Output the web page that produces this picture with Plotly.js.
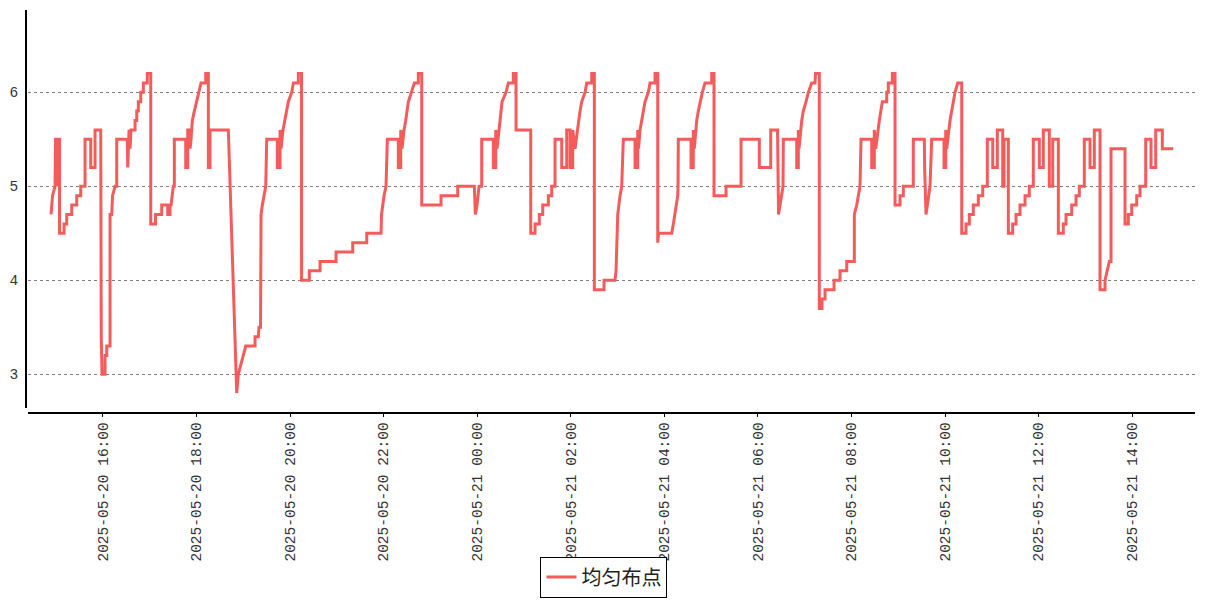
<!DOCTYPE html>
<html>
<head>
<meta charset="utf-8">
<script src="https://cdn.plot.ly/plotly-3.0.1.min.js"></script>
<style>html,body{margin:0;padding:0;background:#fff;}#chart{width:1207px;height:600px;}</style>
</head>
<body>
<div id="chart"></div>
<script>
const seriesName = '均匀布点';
const times = [
'2025-05-20 14:53:35','2025-05-20 14:55:31','2025-05-20 14:58:43','2025-05-20 14:59:22','2025-05-20 15:01:17','2025-05-20 15:01:55','2025-05-20 15:02:34','2025-05-20 15:04:29',
'2025-05-20 15:04:29','2025-05-20 15:10:15','2025-05-20 15:10:15','2025-05-20 15:13:43','2025-05-20 15:13:43','2025-05-20 15:20:08','2025-05-20 15:20:08','2025-05-20 15:26:32',
'2025-05-20 15:26:32','2025-05-20 15:31:40','2025-05-20 15:31:40','2025-05-20 15:37:11','2025-05-20 15:37:11','2025-05-20 15:44:29','2025-05-20 15:44:29','2025-05-20 15:50:00',
'2025-05-20 15:50:00','2025-05-20 15:57:18','2025-05-20 15:57:57','2025-05-20 15:58:59','2025-05-20 16:02:49','2025-05-20 16:02:49','2025-05-20 16:05:00','2025-05-20 16:05:00',
'2025-05-20 16:09:14','2025-05-20 16:09:14','2025-05-20 16:11:25','2025-05-20 16:12:26','2025-05-20 16:15:38','2025-05-20 16:17:49','2025-05-20 16:17:49','2025-05-20 16:31:25',
'2025-05-20 16:31:56','2025-05-20 16:33:36','2025-05-20 16:34:53','2025-05-20 16:36:09','2025-05-20 16:41:17','2025-05-20 16:41:17','2025-05-20 16:43:28','2025-05-20 16:43:28',
'2025-05-20 16:45:31','2025-05-20 16:45:31','2025-05-20 16:48:36','2025-05-20 16:48:36','2025-05-20 16:51:56','2025-05-20 16:51:56','2025-05-20 16:57:03','2025-05-20 16:57:03',
'2025-05-20 17:01:25','2025-05-20 17:01:25','2025-05-20 17:07:34','2025-05-20 17:07:34','2025-05-20 17:15:31','2025-05-20 17:15:31','2025-05-20 17:23:13','2025-05-20 17:23:13',
'2025-05-20 17:26:10','2025-05-20 17:26:10','2025-05-20 17:27:27','2025-05-20 17:28:43','2025-05-20 17:30:23','2025-05-20 17:31:40','2025-05-20 17:31:40','2025-05-20 17:46:17',
'2025-05-20 17:46:17','2025-05-20 17:48:51','2025-05-20 17:48:51','2025-05-20 17:51:48','2025-05-20 17:51:48','2025-05-20 17:53:05','2025-05-20 17:54:45','2025-05-20 17:57:19',
'2025-05-20 18:00:23','2025-05-20 18:03:43','2025-05-20 18:05:54','2025-05-20 18:11:56','2025-05-20 18:11:56','2025-05-20 18:15:16','2025-05-20 18:15:16','2025-05-20 18:17:26',
'2025-05-20 18:17:26','2025-05-20 18:40:54','2025-05-20 18:51:40','2025-05-20 18:53:44','2025-05-20 18:57:11','2025-05-20 19:00:08','2025-05-20 19:03:13','2025-05-20 19:15:08',
'2025-05-20 19:15:08','2025-05-20 19:19:22','2025-05-20 19:20:16','2025-05-20 19:22:11','2025-05-20 19:22:50','2025-05-20 19:24:30','2025-05-20 19:27:04','2025-05-20 19:28:52',
'2025-05-20 19:30:08','2025-05-20 19:43:44','2025-05-20 19:43:44','2025-05-20 19:47:11','2025-05-20 19:47:11','2025-05-20 19:48:28','2025-05-20 19:51:02','2025-05-20 19:53:36',
'2025-05-20 19:55:47','2025-05-20 19:57:50','2025-05-20 20:02:11','2025-05-20 20:04:14','2025-05-20 20:10:39','2025-05-20 20:10:39','2025-05-20 20:14:45','2025-05-20 20:14:45',
'2025-05-20 20:24:45','2025-05-20 20:24:45','2025-05-20 20:38:28','2025-05-20 20:38:28','2025-05-20 20:58:59','2025-05-20 20:58:59','2025-05-20 21:20:24','2025-05-20 21:20:24',
'2025-05-20 21:38:21','2025-05-20 21:38:21','2025-05-20 21:56:41','2025-05-20 21:57:19','2025-05-20 22:00:32','2025-05-20 22:03:05','2025-05-20 22:04:46','2025-05-20 22:18:52',
'2025-05-20 22:18:52','2025-05-20 22:21:56','2025-05-20 22:21:56','2025-05-20 22:23:37','2025-05-20 22:26:10','2025-05-20 22:28:21','2025-05-20 22:31:41','2025-05-20 22:35:09',
'2025-05-20 22:39:23','2025-05-20 22:44:31','2025-05-20 22:44:31','2025-05-20 22:48:52','2025-05-20 22:48:52','2025-05-20 23:13:37','2025-05-20 23:13:37','2025-05-20 23:35:01',
'2025-05-20 23:35:01','2025-05-20 23:56:18','2025-05-20 23:57:35','2025-05-20 23:59:46','2025-05-21 00:02:20','2025-05-21 00:05:47','2025-05-21 00:05:47','2025-05-21 00:20:40',
'2025-05-21 00:20:40','2025-05-21 00:23:44','2025-05-21 00:23:44','2025-05-21 00:25:25','2025-05-21 00:27:58','2025-05-21 00:29:53','2025-05-21 00:31:49','2025-05-21 00:36:57',
'2025-05-21 00:39:53','2025-05-21 00:46:18','2025-05-21 00:46:18','2025-05-21 00:49:46','2025-05-21 00:49:46','2025-05-21 01:08:37','2025-05-21 01:08:37','2025-05-21 01:14:08',
'2025-05-21 01:14:08','2025-05-21 01:19:38','2025-05-21 01:19:38','2025-05-21 01:24:00','2025-05-21 01:24:00','2025-05-21 01:31:11','2025-05-21 01:31:11','2025-05-21 01:35:32',
'2025-05-21 01:35:32','2025-05-21 01:39:46','2025-05-21 01:39:46','2025-05-21 01:48:22','2025-05-21 01:48:22','2025-05-21 01:54:46','2025-05-21 01:54:46','2025-05-21 01:59:00',
'2025-05-21 01:59:00','2025-05-21 02:02:28','2025-05-21 02:02:28','2025-05-21 02:05:25','2025-05-21 02:09:38','2025-05-21 02:11:49','2025-05-21 02:14:00','2025-05-21 02:18:14',
'2025-05-21 02:20:25','2025-05-21 02:26:49','2025-05-21 02:26:49','2025-05-21 02:30:10','2025-05-21 02:30:10','2025-05-21 02:42:35','2025-05-21 02:42:35','2025-05-21 02:56:42',
'2025-05-21 02:57:59','2025-05-21 03:00:10','2025-05-21 03:03:06','2025-05-21 03:05:17','2025-05-21 03:07:20','2025-05-21 03:22:20','2025-05-21 03:22:20','2025-05-21 03:25:48',
'2025-05-21 03:25:48','2025-05-21 03:26:50','2025-05-21 03:28:45','2025-05-21 03:30:56','2025-05-21 03:32:59','2025-05-21 03:35:10','2025-05-21 03:39:24','2025-05-21 03:41:35',
'2025-05-21 03:47:59','2025-05-21 03:47:59','2025-05-21 03:51:27','2025-05-21 03:51:27','2025-05-21 03:52:29','2025-05-21 04:09:24','2025-05-21 04:11:27','2025-05-21 04:13:38',
'2025-05-21 04:15:49','2025-05-21 04:17:06','2025-05-21 04:17:29','2025-05-21 04:17:52','2025-05-21 04:34:08','2025-05-21 04:34:08','2025-05-21 04:37:05','2025-05-21 04:37:05',
'2025-05-21 04:38:22','2025-05-21 04:41:26','2025-05-21 04:43:29','2025-05-21 04:45:40','2025-05-21 04:48:37','2025-05-21 04:52:05','2025-05-21 05:00:40','2025-05-21 05:00:40',
'2025-05-21 05:03:37','2025-05-21 05:03:37','2025-05-21 05:19:01','2025-05-21 05:19:01','2025-05-21 05:38:14','2025-05-21 05:38:14','2025-05-21 06:01:42','2025-05-21 06:01:42',
'2025-05-21 06:16:19','2025-05-21 06:16:19','2025-05-21 06:25:02','2025-05-21 06:26:19','2025-05-21 06:30:25','2025-05-21 06:32:05','2025-05-21 06:32:28','2025-05-21 06:49:39',
'2025-05-21 06:49:39','2025-05-21 06:51:42','2025-05-21 06:51:42','2025-05-21 06:52:36','2025-05-21 06:56:04','2025-05-21 06:58:07','2025-05-21 07:01:35','2025-05-21 07:04:31',
'2025-05-21 07:08:53','2025-05-21 07:13:07','2025-05-21 07:13:45','2025-05-21 07:18:37','2025-05-21 07:18:37','2025-05-21 07:22:05','2025-05-21 07:22:05','2025-05-21 07:25:56',
'2025-05-21 07:25:56','2025-05-21 07:37:28','2025-05-21 07:37:28','2025-05-21 07:45:10','2025-05-21 07:45:10','2025-05-21 07:53:46','2025-05-21 07:53:46','2025-05-21 08:03:30',
'2025-05-21 08:03:30','2025-05-21 08:06:35','2025-05-21 08:08:38','2025-05-21 08:10:49','2025-05-21 08:12:05','2025-05-21 08:25:49','2025-05-21 08:25:49','2025-05-21 08:29:08',
'2025-05-21 08:29:08','2025-05-21 08:30:56','2025-05-21 08:35:33','2025-05-21 08:37:44','2025-05-21 08:39:24','2025-05-21 08:45:02','2025-05-21 08:45:02','2025-05-21 08:47:05',
'2025-05-21 08:47:05','2025-05-21 08:52:13','2025-05-21 08:52:13','2025-05-21 08:55:41','2025-05-21 08:55:41','2025-05-21 09:02:05','2025-05-21 09:02:05','2025-05-21 09:06:19',
'2025-05-21 09:06:19','2025-05-21 09:19:08','2025-05-21 09:19:08','2025-05-21 09:33:14','2025-05-21 09:33:38','2025-05-21 09:35:26','2025-05-21 09:38:23','2025-05-21 09:40:34',
'2025-05-21 09:42:44','2025-05-21 09:58:31','2025-05-21 09:58:31','2025-05-21 10:00:41','2025-05-21 10:00:41','2025-05-21 10:01:58','2025-05-21 10:06:12','2025-05-21 10:08:23',
'2025-05-21 10:10:26','2025-05-21 10:12:37','2025-05-21 10:16:05','2025-05-21 10:21:13','2025-05-21 10:21:13','2025-05-21 10:26:43','2025-05-21 10:26:43','2025-05-21 10:30:57',
'2025-05-21 10:30:57','2025-05-21 10:36:05','2025-05-21 10:36:05','2025-05-21 10:42:29','2025-05-21 10:42:29','2025-05-21 10:48:08','2025-05-21 10:48:08','2025-05-21 10:54:02',
'2025-05-21 10:54:02','2025-05-21 11:00:57','2025-05-21 11:00:57','2025-05-21 11:06:51','2025-05-21 11:06:51','2025-05-21 11:13:46','2025-05-21 11:13:46','2025-05-21 11:15:26',
'2025-05-21 11:15:26','2025-05-21 11:20:57','2025-05-21 11:20:57','2025-05-21 11:26:35','2025-05-21 11:26:35','2025-05-21 11:30:49','2025-05-21 11:30:49','2025-05-21 11:35:57',
'2025-05-21 11:35:57','2025-05-21 11:42:22','2025-05-21 11:42:22','2025-05-21 11:47:52','2025-05-21 11:47:52','2025-05-21 11:53:00','2025-05-21 11:53:00','2025-05-21 12:00:42',
'2025-05-21 12:00:42','2025-05-21 12:05:49','2025-05-21 12:05:49','2025-05-21 12:13:31','2025-05-21 12:13:31','2025-05-21 12:17:53','2025-05-21 12:17:53','2025-05-21 12:25:04',
'2025-05-21 12:25:04','2025-05-21 12:31:28','2025-05-21 12:31:28','2025-05-21 12:34:56','2025-05-21 12:34:56','2025-05-21 12:42:14','2025-05-21 12:42:14','2025-05-21 12:47:44',
'2025-05-21 12:47:44','2025-05-21 12:51:59','2025-05-21 12:51:59','2025-05-21 12:58:23','2025-05-21 12:58:23','2025-05-21 13:05:42','2025-05-21 13:05:42','2025-05-21 13:11:13',
'2025-05-21 13:11:13','2025-05-21 13:18:31','2025-05-21 13:18:31','2025-05-21 13:24:56','2025-05-21 13:24:56','2025-05-21 13:27:53','2025-05-21 13:30:26','2025-05-21 13:32:37',
'2025-05-21 13:32:37','2025-05-21 13:50:34','2025-05-21 13:50:34','2025-05-21 13:54:48','2025-05-21 13:54:48','2025-05-21 13:59:10','2025-05-21 13:59:10','2025-05-21 14:05:34',
'2025-05-21 14:05:34','2025-05-21 14:09:48','2025-05-21 14:09:48','2025-05-21 14:17:07','2025-05-21 14:17:07','2025-05-21 14:23:54','2025-05-21 14:23:54','2025-05-21 14:29:56',
'2025-05-21 14:29:56','2025-05-21 14:38:23','2025-05-21 14:38:23','2025-05-21 14:52:29'
];
const values = [
4.7,4.9,5.0,5.5,5.5,5.0,5.5,5.5,
4.5,4.5,4.6,4.6,4.7,4.7,4.8,4.8,
4.9,4.9,5.0,5.0,5.5,5.5,5.2,5.2,
5.6,5.6,3.4,3.0,3.0,3.2,3.2,3.3,
3.3,4.7,4.7,4.9,5.0,5.0,5.5,5.5,
5.2,5.6,5.4,5.6,5.6,5.7,5.7,5.8,
5.8,5.9,5.9,6.0,6.0,6.1,6.1,6.2,
6.2,4.6,4.6,4.7,4.7,4.8,4.8,4.7,
4.7,4.8,4.8,4.9,5.0,5.0,5.5,5.5,
5.2,5.2,5.6,5.6,5.4,5.5,5.7,5.8,
5.9,6.0,6.1,6.1,6.2,6.2,5.2,5.2,
5.6,5.6,2.8,3.0,3.1,3.2,3.3,3.3,
3.4,3.4,3.5,3.5,4.7,4.8,4.9,5.0,
5.5,5.5,5.2,5.2,5.6,5.4,5.6,5.7,
5.8,5.9,6.0,6.1,6.1,6.2,6.2,4.0,
4.0,4.1,4.1,4.2,4.2,4.3,4.3,4.4,
4.4,4.5,4.5,4.7,4.9,5.0,5.5,5.5,
5.2,5.2,5.6,5.4,5.6,5.7,5.9,6.0,
6.1,6.1,6.2,6.2,4.8,4.8,4.9,4.9,
5.0,5.0,4.7,4.8,5.0,5.0,5.5,5.5,
5.2,5.2,5.6,5.4,5.6,5.7,5.9,6.0,
6.1,6.1,6.2,6.2,5.6,5.6,4.5,4.5,
4.6,4.6,4.7,4.7,4.8,4.8,4.9,4.9,
5.0,5.0,5.5,5.5,5.2,5.2,5.6,5.6,
5.2,5.2,5.6,5.4,5.7,5.8,5.9,6.0,
6.1,6.1,6.2,6.2,3.9,3.9,4.0,4.0,
4.1,4.7,4.9,5.0,5.5,5.5,5.2,5.2,
5.6,5.4,5.6,5.7,5.8,5.9,6.0,6.1,
6.1,6.2,6.2,4.4,4.5,4.5,4.6,4.7,
4.8,4.9,5.0,5.5,5.5,5.2,5.2,5.6,
5.4,5.7,5.8,5.9,6.0,6.1,6.1,6.2,
6.2,4.9,4.9,5.0,5.0,5.5,5.5,5.2,
5.2,5.6,5.6,4.7,4.9,5.0,5.5,5.5,
5.2,5.2,5.6,5.4,5.7,5.8,5.9,6.0,
6.1,6.1,6.2,6.2,3.7,3.7,3.8,3.8,
3.9,3.9,4.0,4.0,4.1,4.1,4.2,4.2,
4.7,4.8,4.9,5.0,5.5,5.5,5.2,5.2,
5.6,5.4,5.7,5.8,5.9,5.9,6.0,6.0,
6.1,6.1,6.2,6.2,4.8,4.8,4.9,4.9,
5.0,5.0,5.5,5.5,5.2,4.7,4.9,5.0,
5.5,5.5,5.2,5.2,5.6,5.4,5.7,5.8,
5.9,6.0,6.1,6.1,4.5,4.5,4.6,4.6,
4.7,4.7,4.8,4.8,4.9,4.9,5.0,5.0,
5.5,5.5,5.2,5.2,5.6,5.6,5.0,5.0,
5.5,5.5,4.5,4.5,4.6,4.6,4.7,4.7,
4.8,4.8,4.9,4.9,5.0,5.0,5.5,5.5,
5.2,5.2,5.6,5.6,5.0,5.0,5.5,5.5,
4.5,4.5,4.6,4.6,4.7,4.7,4.8,4.8,
4.9,4.9,5.0,5.0,5.5,5.5,5.2,5.2,
5.6,5.6,3.9,3.9,4.0,4.1,4.2,4.2,
5.4,5.4,4.6,4.6,4.7,4.7,4.8,4.8,
4.9,4.9,5.0,5.0,5.5,5.5,5.2,5.2,
5.6,5.6,5.4,5.4
];
const yTicks = [3, 4, 5, 6];

const trace = {
  type: 'scatter', mode: 'lines', name: seriesName,
  x: times, y: values,
  line: {color: '#f45b5b', width: 3},
  hoverinfo: 'x+y'
};

const tickFont = {family: '"Liberation Mono", "DejaVu Sans Mono", monospace', size: 14.5, color: '#333'};

const layout = {
  width: 1207, height: 600,
  margin: {l: 25, r: 12, t: 10, b: 188, autoexpand: false},
  paper_bgcolor: '#fff', plot_bgcolor: '#fff',
  showlegend: true,
  xaxis: {
    type: 'date',
    range: ['2025-05-20 14:24:06', '2025-05-21 15:20:18'],
    domain: [0.0026, 1],
    anchor: 'free', position: 0,
    automargin: false,
    showline: true, linecolor: '#000', linewidth: 1.5,
    ticks: 'outside', ticklen: 3, tickcolor: '#000', tickwidth: 1,
    tick0: '2025-05-20 16:00', dtick: 7200000,
    tickformat: '%Y-%m-%d %H:%M', tickangle: -90,
    tickfont: tickFont,
    showgrid: false, zeroline: false
  },
  yaxis: {
    range: [2.641, 6.876],
    domain: [0.01, 1],
    anchor: 'free', position: 0,
    automargin: false,
    showline: true, linecolor: '#000', linewidth: 1.5,
    ticks: '', tickvals: yTicks,
    ticklabelstandoff: 4,
    tickfont: tickFont,
    showgrid: true, gridcolor: '#808080', griddash: 'dot', gridwidth: 1,
    zeroline: false
  },
  legend: {
    orientation: 'h',
    xref: 'container', x: 0.5004, xanchor: 'center',
    yref: 'container', y: 0.004, yanchor: 'bottom',
    bordercolor: '#000', borderwidth: 1, bgcolor: '#fff',
    font: {family: '"Noto Sans CJK SC", sans-serif', size: 20, color: '#222'}
  }
};

Plotly.newPlot('chart', [trace], layout, {displayModeBar: false, staticPlot: true});
</script>
</body>
</html>
